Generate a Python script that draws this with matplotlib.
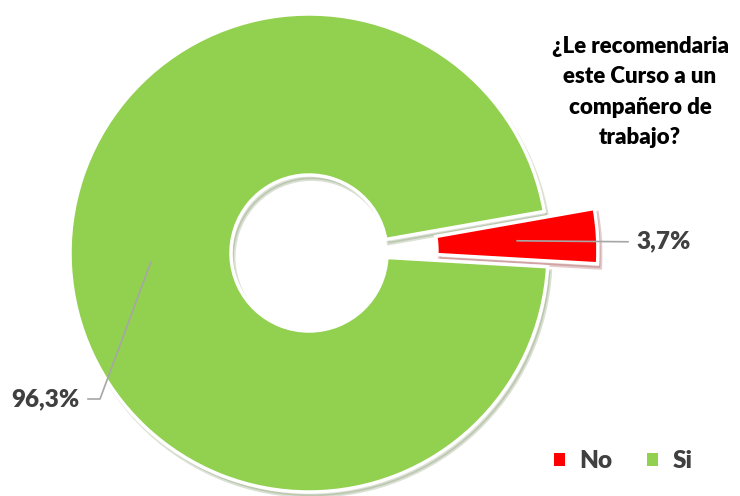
import numpy as np
import matplotlib.pyplot as plt
from matplotlib.patches import Patch

# data
categories = ["No", "Si"]
values = [3.7, 96.3]
value_labels = ["3,7%", "96,3%"]
colors = ["#FF0000", "#92D050"]
title = "¿Le recomendaria\neste Curso a un\ncompañero de\ntrabajo?"

plt.rcParams['font.family'] = ['Lato', 'DejaVu Sans']

fig = plt.figure(figsize=(7.4, 4.96), dpi=100)
ax = fig.add_axes([0, 0, 1, 1])

cx, cy, r = 309, 243, 239
inner = 78
wedges, _ = ax.pie(values, colors=colors, startangle=-3.3, radius=r,
                   center=(cx, cy), explode=[50, 0],
                   wedgeprops=dict(width=r - inner, edgecolor='white', linewidth=2.5),
                   shadow=dict(ox=2, oy=-3, alpha=0.2, shade=0.5))
ax.set_xlim(0, 740)
ax.set_ylim(0, 496)
ax.axis('off')

mid_r = (r + inner) / 2
text_col = '#404040'

# label No (right)
w = wedges[0]
ang = np.deg2rad((w.theta1 + w.theta2) / 2)
wx, wy = w.center
p0 = (wx + mid_r * np.cos(ang), wy + mid_r * np.sin(ang))
ax.plot([p0[0], 628], [p0[1], p0[1] - 1], color='#a6a6a6', lw=1.2)
ax.text(636, p0[1] - 1, value_labels[0], ha='left', va='center',
        fontsize=17.5, fontweight='heavy', color=text_col)

# label Si (left)
w = wedges[1]
ang = np.deg2rad((w.theta1 + w.theta2) / 2)
wx, wy = w.center
p1 = (wx + mid_r * np.cos(ang), wy + mid_r * np.sin(ang))
ax.plot([p1[0], 100, 88], [p1[1], 97, 97], color='#a6a6a6', lw=1.2)
ax.text(80, 97, value_labels[1], ha='right', va='center',
        fontsize=17.5, fontweight='heavy', color=text_col)

ax.text(640, 496 - 92, title, ha='center', va='center', fontsize=16,
        fontweight='heavy', color='black', linespacing=1.55)

handles = [Patch(facecolor=c, edgecolor='none') for c in colors]
leg = ax.legend(handles, categories, loc='center', bbox_to_anchor=(0.842, 0.07),
                ncol=2, frameon=False, handlelength=0.45, handleheight=0.45,
                handletextpad=0.6, columnspacing=1.4,
                prop={'size': 17.5, 'weight': 'heavy'})
for t in leg.get_texts():
    t.set_color(text_col)

fig.savefig('out.png', dpi=100)
